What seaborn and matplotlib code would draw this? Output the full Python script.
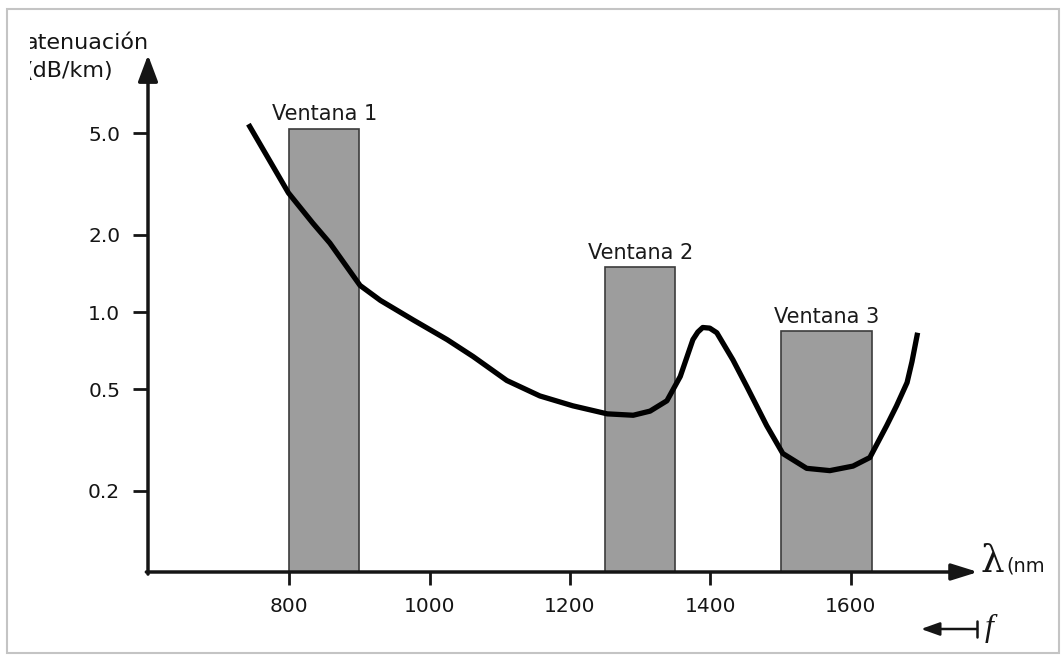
import numpy as np
import pandas as pd
import matplotlib
matplotlib.use("Agg")
import matplotlib.pyplot as plt
from matplotlib.patches import Rectangle, FancyArrowPatch
from matplotlib.lines import Line2D
from matplotlib.ticker import NullLocator, FixedLocator, FixedFormatter
from matplotlib.transforms import Bbox
import seaborn as sns

# Attenuation of silica fibre versus wavelength (nm, dB/km)
wavelength = [742, 799, 834, 858, 901, 930, 977, 1025, 1062, 1110, 1157, 1204,
              1253, 1290, 1314, 1338, 1357, 1375, 1382, 1389, 1399, 1409, 1432,
              1452, 1480, 1503, 1537, 1570, 1603, 1627, 1651, 1665, 1680, 1687,
              1695]
attenuation = [5.42, 2.92, 2.22, 1.86, 1.27, 1.11, 0.93, 0.78, 0.67, 0.54, 0.47,
               0.43, 0.40, 0.395, 0.41, 0.45, 0.56, 0.78, 0.835, 0.87, 0.865,
               0.83, 0.65, 0.51, 0.36, 0.28, 0.245, 0.24, 0.25, 0.27, 0.36, 0.43,
               0.53, 0.64, 0.83]

# Transmission windows
window_names = ["Ventana 1", "Ventana 2", "Ventana 3"]
window_start = [800, 1250, 1500]
window_end = [900, 1350, 1630]
window_top = [5.2, 1.5, 0.84]

y_ticks = [0.2, 0.5, 1.0, 2.0, 5.0]
y_tick_labels = ["0.2", "0.5", "1.0", "2.0", "5.0"]
x_ticks = [800, 1000, 1200, 1400, 1600]
x_tick_labels = ["800", "1000", "1200", "1400", "1600"]

sns.set_style("white")
plt.rcParams["font.family"] = ["DejaVu Sans"]

W, H = 1063, 656
fig = plt.figure(figsize=(W / 100, H / 100), dpi=100)
fig.patch.set_facecolor("white")

# axes placed in pixel terms
left_px, right_px, top_px, bottom_px = 148, 978, 55, 572
ax = fig.add_axes([left_px / W, (H - bottom_px) / H,
                   (right_px - left_px) / W, (bottom_px - top_px) / H])
ax.set_yscale("log")
y_min, y_max = 0.0964, 10.1
ax.set_xlim(599, 1781)
ax.set_ylim(y_min, y_max)

ink = "#151515"

# window bars
ax.bar(window_start, [t - y_min for t in window_top],
       width=[e - s for s, e in zip(window_start, window_end)],
       bottom=y_min, align="edge", color="#9d9d9d",
       edgecolor="#3c3c3c", linewidth=1.2, zorder=1)
for name, s, e, t in zip(window_names, window_start, window_end, window_top):
    ax.text((s + e) / 2, t * 1.04, name, ha="center", va="bottom",
            fontsize=15, color="#1a1a1a", zorder=4)

# attenuation curve
df = pd.DataFrame({"wavelength": wavelength, "attenuation": attenuation})
sns.lineplot(data=df, x="wavelength", y="attenuation", ax=ax, color="black",
             linewidth=3.8, zorder=3, legend=False)
ax.lines[-1].set_solid_joinstyle("round")
ax.lines[-1].set_solid_capstyle("butt")

# axes with arrow heads
for sp in ax.spines.values():
    sp.set_visible(False)
arrow_kw = dict(arrowstyle="-|>,head_length=0.8,head_width=0.3", lw=2.5,
                color=ink, mutation_scale=20, shrinkA=0, shrinkB=0)
ax.annotate("", xy=(0, 1), xytext=(0, -0.004), xycoords="axes fraction",
            arrowprops=arrow_kw, annotation_clip=False, zorder=5)
ax.annotate("", xy=(1, 0), xytext=(-0.002, 0), xycoords="axes fraction",
            arrowprops=dict(arrow_kw, arrowstyle="-|>,head_length=0.8,head_width=0.25"),
            annotation_clip=False, zorder=5)

ax.yaxis.set_major_locator(FixedLocator(y_ticks))
ax.yaxis.set_major_formatter(FixedFormatter(y_tick_labels))
ax.yaxis.set_minor_locator(NullLocator())
ax.set_xticks(x_ticks)
ax.set_xticklabels(x_tick_labels)
ax.tick_params(axis="y", direction="out", length=11, width=2, pad=9,
               labelsize=14.5, colors=ink, left=True)
ax.tick_params(axis="x", direction="out", length=9, width=2, pad=9,
               labelsize=14.5, colors=ink, bottom=True)
ax.set_xlabel("")
ax.set_ylabel("")
ax.grid(False)

# y-axis title, clipped on its left side
clip_box = Bbox.from_extents(30, 0, W, H)
t1 = fig.text(149 / W, (H - 43) / H, "atenuación", ha="right", va="center",
              fontsize=16, color=ink)
t2 = fig.text(113 / W, (H - 71) / H, "(dB/km)", ha="right", va="center",
              fontsize=16, color=ink)
for t in (t1, t2):
    t.set_clip_on(True)
    t.set_clip_box(clip_box)

# x-axis title
fig.text(981 / W, (H - 572) / H, "λ", ha="left", va="baseline",
         fontsize=27, family="DejaVu Serif", color=ink)
fig.text(1006 / W, (H - 572) / H, "(nm", ha="left", va="baseline",
         fontsize=14, color=ink)

# frequency direction marker
fig.add_artist(FancyArrowPatch(
    (977 / W, (H - 629) / H), (921 / W, (H - 629) / H),
    transform=fig.transFigure, arrowstyle="-|>,head_length=0.7,head_width=0.25",
    mutation_scale=16, lw=1.8, color=ink, shrinkA=0, shrinkB=0))
fig.add_artist(Line2D([977 / W, 977 / W], [(H - 621) / H, (H - 637) / H],
                      transform=fig.transFigure, lw=1.8, color=ink))
fig.text(985 / W, (H - 636) / H, "f", ha="left", va="baseline", fontsize=23,
         family="Liberation Serif", style="italic", color=ink)

# outer frame
fig.add_artist(Rectangle((7 / W, (H - 653) / H), (1059 - 7) / W, (653 - 9) / H,
                         transform=fig.transFigure, fill=False,
                         edgecolor="#c4c4c4", lw=1.5))

fig.savefig("out.png", dpi=100, facecolor="white")
